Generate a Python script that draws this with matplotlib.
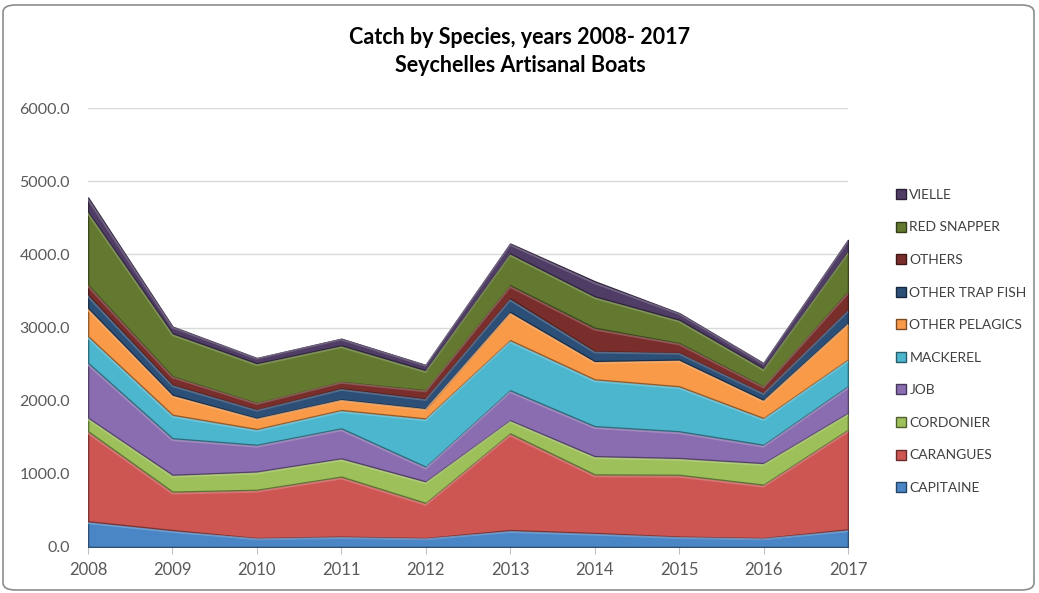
import matplotlib
matplotlib.use("Agg")
import matplotlib.pyplot as plt
import numpy as np
from matplotlib.patches import FancyBboxPatch
from matplotlib.lines import Line2D
import matplotlib.colors as mcolors

years = [2008, 2009, 2010, 2011, 2012, 2013, 2014, 2015, 2016, 2017]
species = ["CAPITAINE", "CARANGUES", "CORDONIER", "JOB", "MACKEREL",
           "OTHER PELAGICS", "OTHER TRAP FISH", "OTHERS", "RED SNAPPER", "VIELLE"]
capitaine = [350, 230, 120, 140, 120, 230, 190, 140, 120, 240]
carangues = [1230, 525, 660, 820, 480, 1320, 800, 845, 730, 1360]
cordonier = [185, 230, 250, 250, 295, 180, 250, 230, 295, 230]
job = [750, 500, 365, 410, 200, 410, 410, 365, 250, 365]
mackerel = [365, 320, 215, 250, 660, 685, 640, 615, 365, 365]
other_pelagics = [385, 275, 150, 145, 135, 385, 250, 365, 250, 500]
other_trap_fish = [180, 135, 115, 150, 135, 185, 135, 90, 90, 180]
others = [135, 115, 90, 90, 115, 180, 320, 135, 90, 250]
red_snapper = [1000, 590, 545, 500, 275, 435, 430, 320, 250, 545]
vielle = [195, 90, 70, 90, 70, 135, 205, 90, 70, 160]

series = [capitaine, carangues, cordonier, job, mackerel, other_pelagics,
          other_trap_fish, others, red_snapper, vielle]
colors = ["#4A86C6", "#CD5653", "#9DC05A", "#8A6DB0", "#4DB6CF",
          "#F89A48", "#2C4F78", "#7A2E2C", "#62792F", "#503D66"]

plt.rcParams['font.family'] = ['Lato', 'DejaVu Sans']

W, H = 1039, 593
fig = plt.figure(figsize=(W / 100, H / 100), dpi=100)
fig.patch.set_facecolor('white')

# rounded chart border
border = FancyBboxPatch((3 / W, 3 / H), (W - 8) / W, (H - 8) / H,
                        boxstyle="round,pad=0,rounding_size=0.012",
                        transform=fig.transFigure, facecolor='none',
                        edgecolor='#8C8C8C', linewidth=1.2, zorder=-1)
fig.patches.append(border)

ax = fig.add_axes([88 / W, 1 - 547 / H, (848 - 88) / W, (547 - 108) / H])
ax.set_facecolor('none')

def shade(c, f):
    r, g, b = mcolors.to_rgb(c)
    if f < 1:
        return (r * f, g * f, b * f)
    return (r + (1 - r) * (f - 1), g + (1 - g) * (f - 1), b + (1 - b) * (f - 1))

x = np.array(years)
base = np.zeros(len(years))
for vals, col in zip(series, colors):
    v = np.array(vals, dtype=float)
    top = base + v
    ax.fill_between(x, base, top, facecolor=col, edgecolor=shade(col, 0.6),
                    linewidth=1.2, zorder=3)
    # bevel highlight near top edge
    ax.plot(x, top - np.minimum(v * 0.12, 25), color=shade(col, 1.25),
            linewidth=1.3, zorder=4, alpha=0.8)
    base = top

ax.set_xlim(2008, 2017)
ax.set_ylim(0, 6000)
ax.set_yticks(np.arange(0, 6001, 1000))
ax.set_yticklabels([f"{v:.1f}" for v in np.arange(0, 6001, 1000)])
ax.set_xticks(years)
ax.set_xticklabels([str(y) for y in years])
ax.grid(axis='y', color='#D9D9D9', linewidth=1.0, zorder=0)
ax.set_axisbelow(True)
for s in ['top', 'right', 'left']:
    ax.spines[s].set_visible(False)
ax.spines['bottom'].set_color('#BFBFBF')
ax.tick_params(axis='y', length=0, pad=13, labelsize=11.5, labelcolor='#595959')
ax.tick_params(axis='x', length=5, color='#BFBFBF', pad=6, labelsize=12,
               labelcolor='#595959')

fig.text(520 / W, 1 - 38 / H, "Catch by Species, years 2008- 2017",
         ha='center', va='center', fontsize=15.5, fontweight='bold', color='black')
fig.text(520 / W, 1 - 65 / H, "Seychelles Artisanal Boats",
         ha='center', va='center', fontsize=15.5, fontweight='bold', color='black')

handles = [Line2D([0], [0], marker='s', linestyle='none', markersize=7,
                  markerfacecolor=c, markeredgecolor=shade(c, 0.5))
           for c in colors]
leg = fig.legend(handles[::-1], species[::-1], loc='upper left',
                 bbox_to_anchor=(890 / W, 1 - 182 / H), frameon=False,
                 fontsize=10, labelcolor='#404040', handlelength=0.6,
                 handletextpad=0.3, labelspacing=1.48, borderpad=0)

fig.savefig("out.png", dpi=100, facecolor='white')
